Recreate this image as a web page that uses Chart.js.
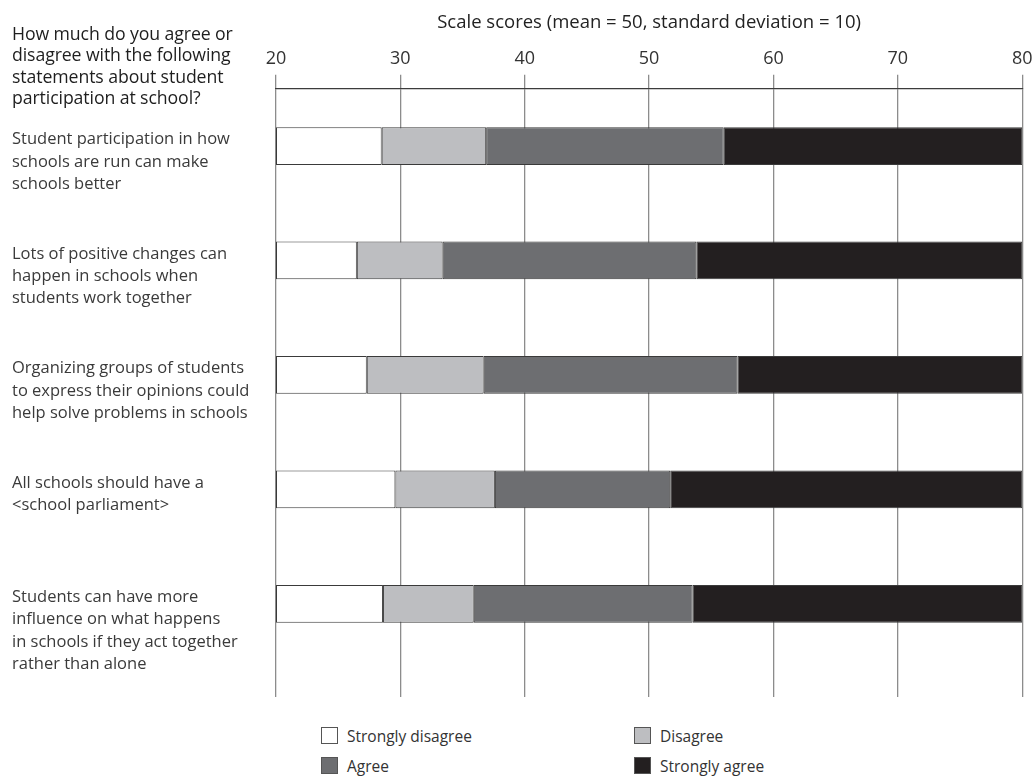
<!DOCTYPE html>
<html>
<head>
<meta charset="utf-8">
<script src="https://cdn.jsdelivr.net/npm/chart.js@4.4.0/dist/chart.umd.min.js"></script>
<style>
    body { margin: 0; background: #fff; font-family: 'Open Sans', sans-serif; }
    #wrap { position: relative; width: 1034px; height: 777px; overflow: hidden; }
    #chart { position: absolute; left: 0; top: 0; }
    #question { position: absolute; left: 12px; top: 23px; font-size: 17.7px; line-height: 21.3px; color: #1e1e1e; letter-spacing: -0.1px; }
    .leg { position: absolute; font-size: 15.5px; color: #333; height: 18px; line-height: 18px; white-space: nowrap; }
    .leg span.box { display: inline-block; width: 17px; height: 17px; border: 1px solid #555; vertical-align: top; margin-right: 9px; box-sizing: border-box; }
</style>
</head>
<body>
<div id="wrap">
    <!-- canvas a little wider than the page: the axis reserves half a tick label + padding on the right -->
    <canvas id="chart" width="1038" height="700"></canvas>
    <div id="question">How much do you agree or<br>disagree with the following<br>statements about student<br>participation at school?</div>
    <div id="legend"></div>
</div>
<script>
// ── Data ─────────────────────────────────────────────────────────────────────

const categories = [
    ['Student participation in how', 'schools are run can make', 'schools better'],
    ['Lots of positive changes can', 'happen in schools when', 'students work together'],
    ['Organizing groups of students', 'to express their opinions could', 'help solve problems in schools'],
    ['All schools should have a', '<school parliament>'],
    ['Students can have more', 'influence on what happens', 'in schools if they act together', 'rather than alone']
];

// scale score where each response category begins
const disagreeFrom = [28.5, 26.5, 27.3, 29.6, 28.6];
const agreeFrom = [36.9, 33.4, 36.7, 37.6, 35.9];
const stronglyAgreeFrom = [56.0, 53.8, 57.1, 51.7, 53.5];

const scaleMin = 20;
const scaleMax = 80;
const tickStep = 10;

const SERIES = [
    { label: 'Strongly disagree', color: '#ffffff' },
    { label: 'Disagree', color: '#bdbec1' },
    { label: 'Agree', color: '#6d6e71' },
    { label: 'Strongly agree', color: '#231f20' }
];

// ── Build floating segments ──────────────────────────────────────────────────

const edges = categories.map((_, i) => [scaleMin, disagreeFrom[i], agreeFrom[i], stronglyAgreeFrom[i], scaleMax]);

const datasets = SERIES.map((s, k) => ({
    label: s.label,
    data: edges.map(e => [e[k], e[k + 1]]),
    backgroundColor: s.color,
    borderColor: '#3a3a3a',
    borderWidth: 1,
    borderSkipped: false,
    grouped: false,
    barPercentage: 0.33,
    categoryPercentage: 1
}));

// ── Row labels, top-aligned with each bar ────────────────────────────────────

const rowLabels = {
    id: 'rowLabels',
    afterDraw(chart) {
        const { ctx, scales: { y } } = chart;
        ctx.save();
        ctx.fillStyle = '#3a3a3a';
        ctx.font = '16.5px "Open Sans"';
        ctx.textBaseline = 'middle';
        ctx.textAlign = 'left';
        categories.forEach((lines, i) => {
            const top = y.getPixelForValue(i) - 6.5;
            lines.forEach((line, j) => ctx.fillText(line, 12, top + j * 22.4));
        });
        ctx.restore();
    }
};

const GRID = '#8c8c8c';

const chart = new Chart(document.getElementById('chart'), {
    type: 'bar',
    data: { labels: categories.map(c => c.join(' ')), datasets },
    options: {
        indexAxis: 'y',
        responsive: false,
        animation: false,
        layout: { padding: { left: 276, right: 12, top: 12, bottom: 3 } },
        scales: {
            x: {
                type: 'linear',
                position: 'top',
                min: scaleMin,
                max: scaleMax,
                ticks: { stepSize: tickStep, color: '#333', font: { family: 'Open Sans', size: 18 }, padding: 5.5 },
                grid: { color: GRID, lineWidth: 1.3, tickLength: 14 },
                border: { display: true, color: '#3c3c3c', width: 1.2 },
                title: {
                    display: true,
                    text: 'Scale scores (mean = 50, standard deviation = 10)',
                    color: '#222',
                    font: { family: 'Open Sans', size: 18.5 },
                    padding: { top: 0, bottom: 8 }
                }
            },
            x2: {
                type: 'linear',
                position: 'bottom',
                min: scaleMin,
                max: scaleMax,
                ticks: { stepSize: tickStep, display: false },
                grid: { drawOnChartArea: false, color: GRID, lineWidth: 1.3, tickLength: 36 },
                border: { display: false }
            },
            y: { type: 'category', display: false }
        },
        plugins: {
            legend: { display: false },
            tooltip: { enabled: false }
        }
    },
    plugins: [rowLabels]
});

// ── HTML legend (2 x 2) ───────────────────────────────────────────────────────

const legendPos = [[321, 727], [634, 727], [321, 757], [634, 757]];
const legendEl = document.getElementById('legend');
chart.data.datasets.forEach((ds, i) => {
    const item = document.createElement('div');
    item.className = 'leg';
    item.style.left = legendPos[i][0] + 'px';
    item.style.top = legendPos[i][1] + 'px';
    item.innerHTML = `<span class="box" style="background:${ds.backgroundColor}"></span>${ds.label}`;
    legendEl.appendChild(item);
});
</script>
</body>
</html>
